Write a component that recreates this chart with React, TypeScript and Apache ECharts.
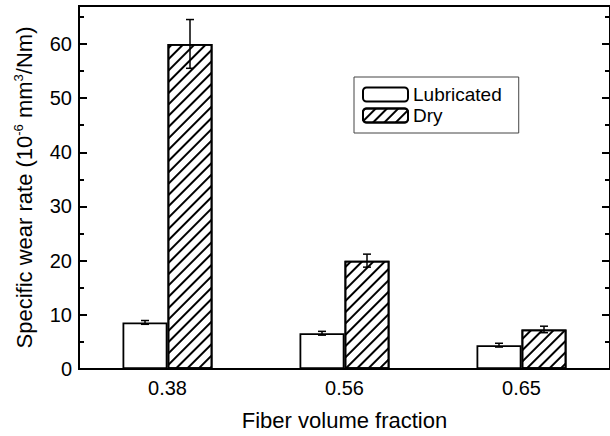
import React, { useEffect, useRef } from "react";
import * as echarts from "echarts";

// Fiber volume fractions on the x axis
const categories = ["0.38", "0.56", "0.65"];
// Specific wear rate, 10^-6 mm^3/Nm
const lubricated = [8.6, 6.6, 4.4];
const lubricatedErr = [0.35, 0.35, 0.35];
const dry = [60, 20, 7.3];
const dryErr = [4.5, 1.2, 0.6];

const FONT = '"Liberation Sans", Arial, Helvetica, sans-serif';
const BAR_WIDTH = 45;
const Y_MAX = 67;

function errorSeries(name: string, values: number[], errs: number[], side: number) {
  return {
    name,
    type: "custom",
    z: 10,
    silent: true,
    data: values.map((v, i) => [i, v, errs[i]]),
    encode: { x: 0, y: 1 },
    renderItem: (_params: any, api: any) => {
      const idx = api.value(0);
      const v = api.value(1);
      const e = api.value(2);
      const top = api.coord([idx, v + e]);
      const bot = api.coord([idx, v - e]);
      const x = top[0] + (side * BAR_WIDTH) / 2;
      const cap = 4;
      const style = { stroke: "#000", lineWidth: 1.5 };
      return {
        type: "group",
        children: [
          { type: "line", shape: { x1: x, y1: top[1], x2: x, y2: bot[1] }, style },
          { type: "line", shape: { x1: x - cap, y1: top[1], x2: x + cap, y2: top[1] }, style },
          { type: "line", shape: { x1: x - cap, y1: bot[1], x2: x + cap, y2: bot[1] }, style },
        ],
      };
    },
  };
}

// Label-less axis used only to draw inward tick marks on one side of the frame
function tickAxis(position: string, interval: number, length: number) {
  return {
    type: "value",
    position,
    min: 0,
    max: Y_MAX,
    interval,
    axisLine: { show: false },
    axisTick: { show: true, inside: true, length, lineStyle: { color: "#000", width: 2 } },
    axisLabel: { show: false },
    splitLine: { show: false },
  };
}

export default function App() {
  const ref = useRef<HTMLDivElement>(null);

  useEffect(() => {
    if (!ref.current) return;
    const chart = echarts.init(ref.current, null, { renderer: "svg" });
    const option: any = {
      animation: false,
      backgroundColor: "#fff",
      textStyle: { fontFamily: FONT },
      grid: {
        left: 79,
        top: 6,
        width: 534,
        height: 367,
        show: true,
        borderColor: "#000",
        borderWidth: 2,
        backgroundColor: "transparent",
      },
      legend: {
        data: ["Lubricated", "Dry"],
        orient: "vertical",
        left: 354,
        top: 77,
        padding: [8, 17, 8, 8],
        itemWidth: 45,
        itemHeight: 14,
        itemGap: 2,
        itemTextGap: 6,
        borderColor: "#444",
        borderWidth: 1,
        backgroundColor: "#fff",
        textStyle: { fontFamily: FONT, fontSize: 19, color: "#000" },
        selectedMode: false,
      },
      xAxis: {
        type: "category",
        data: categories,
        axisLine: { show: true, lineStyle: { color: "#000", width: 2 } },
        axisTick: { show: false },
        axisLabel: { fontFamily: FONT, fontSize: 20, color: "#000", margin: 9 },
        name: "Fiber volume fraction",
        nameLocation: "middle",
        nameGap: 40,
        nameTextStyle: { fontFamily: FONT, fontSize: 22, color: "#000" },
        splitLine: { show: false },
      },
      yAxis: [
        {
          type: "value",
          position: "left",
          min: 0,
          max: Y_MAX,
          interval: 10,
          axisLine: { show: true, lineStyle: { color: "#000", width: 2 } },
          axisTick: { show: true, inside: true, length: 8, lineStyle: { color: "#000", width: 2 } },
          axisLabel: {
            fontFamily: FONT,
            fontSize: 20,
            color: "#000",
            margin: 7,
            showMaxLabel: false,
            formatter: (v: number) => (v % 10 === 0 ? String(v) : ""),
          },
          splitLine: { show: false },
          name: "{a|Specific wear rate (10}{s|-6}{a| mm}{s|3}{a|/Nm)}",
          nameLocation: "middle",
          nameGap: 42,
          nameTextStyle: {
            fontFamily: FONT,
            color: "#000",
            rich: {
              a: { fontFamily: FONT, fontSize: 22, lineHeight: 25, color: "#000" },
              s: { fontFamily: FONT, fontSize: 13, lineHeight: 13, verticalAlign: "top", color: "#000" },
            },
          },
        },
        tickAxis("left", 5, 5),
        tickAxis("right", 10, 8),
        tickAxis("right", 5, 5),
      ],
      series: [
        {
          name: "Lubricated",
          type: "bar",
          data: lubricated,
          barWidth: BAR_WIDTH,
          barGap: "0%",
          itemStyle: { color: "#fff", borderColor: "#000", borderWidth: 1.8 },
        },
        {
          name: "Dry",
          type: "bar",
          data: dry,
          barWidth: BAR_WIDTH,
          barGap: "0%",
          itemStyle: {
            color: "#fff",
            borderColor: "#000",
            borderWidth: 1.8,
            decal: {
              symbol: "rect",
              symbolSize: 1,
              dashArrayX: [1, 0],
              dashArrayY: [1.2, 6],
              rotation: -Math.PI / 4,
              color: "#000",
              backgroundColor: "#fff",
            },
          },
        },
        errorSeries("LubricatedErr", lubricated, lubricatedErr, -1),
        errorSeries("DryErr", dry, dryErr, 1),
      ],
    };
    chart.setOption(option);
    return () => chart.dispose();
  }, []);

  return (
    <div
      ref={ref}
      style={{ position: "fixed", left: 0, top: 0, width: 610, height: 436 }}
    />
  );
}
